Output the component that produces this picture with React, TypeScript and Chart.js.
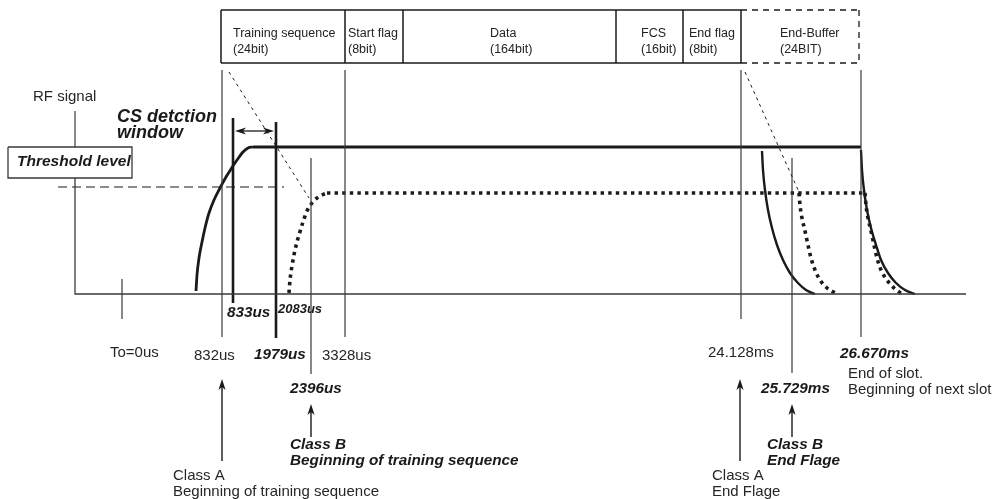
import React, { useEffect, useRef } from "react";
import { Chart, registerables } from "chart.js";

Chart.register(...registerables);

type P = [number, number];

// ---- Schematic diagram space (x: time-ordered schematic axis, y: level, top = 0) ----
const X_RANGE: P = [0, 997];
const Y_RANGE: P = [0, 499];

// Packet frame fields
const FIELD_EDGES = [221, 345, 403, 616, 683, 741];
const BUFFER_EDGE = 859;
const FRAME_TOP = 10;
const FRAME_BOTTOM = 63;
const FIELD_TITLES = ["Training sequence", "Start flag", "Data", "FCS", "End flag", "End-Buffer"];
const FIELD_BITS = ["(24bit)", "(8bit)", "(164bit)", "(16bit)", "(8bit)", "(24BIT)"];
const FIELD_TEXT_X = [233, 348, 490, 641, 689, 780];

// Axes of the RF signal plot
const BASE_LEVEL = 294;
const AXIS_X: P = [75, 966];
const RF_AXIS_TOP = 111;
const THRESH_BOX: [number, number, number, number] = [8, 147, 132, 178];
const THRESHOLD_LEVEL = 187;
const THRESHOLD_SPAN: P = [58, 284];

// Signal levels
const CLASS_A_LEVEL = 147;
const CLASS_B_LEVEL = 193;

// Class A (solid) signal
const CLASS_A_RISE: P[] = [
  [196, 291], [197, 275], [199, 258], [202, 242], [205, 228], [209, 213], [214, 200],
  [220, 188], [226, 177], [231, 169], [237, 160], [243, 152], [248, 148], [253, 147],
];
const CLASS_A_FLAT: P = [253, 861];
const CLASS_A_FALL_1: P[] = [
  [762, 151], [763, 170], [765, 190], [768, 210], [772, 228], [777, 245], [783, 260],
  [790, 273], [798, 283], [806, 290], [815, 294],
];
const CLASS_A_FALL_2: P[] = [
  [861, 150], [862, 170], [864, 190], [867, 210], [871, 228], [876, 245], [881, 260],
  [888, 273], [896, 283], [905, 290], [915, 294],
];

// Class B (dotted) signal
const CLASS_B_RISE: P[] = [
  [289, 293], [290, 280], [292, 266], [295, 250], [299, 235], [303, 222], [307, 211],
  [312, 203], [317, 198], [322, 195], [327, 193],
];
const CLASS_B_FLAT: P = [327, 866];
const CLASS_B_FALL_1: P[] = [
  [799, 193], [800, 205], [802, 218], [805, 231], [808, 245], [811, 258], [815, 270],
  [820, 280], [827, 288], [837, 294],
];
const CLASS_B_FALL_2: P[] = [
  [865, 193], [866, 205], [868, 218], [871, 231], [874, 245], [877, 258], [881, 270],
  [887, 280], [894, 288], [902, 294],
];

// Guides (thin dashed)
const GUIDE_LEFT: P[] = [[229, 72], [309, 198]];
const GUIDE_RIGHT: P[] = [[745, 72], [799, 192]];

// Time markers: [x, top, bottom]
const THIN_MARKERS: [number, number, number][] = [
  [122, 279, 319], [222, 70, 337], [345, 70, 337], [741, 70, 319], [861, 70, 337],
  [311, 158, 374], [792, 158, 373],
];
const THICK_MARKERS: [number, number, number][] = [[233, 118, 303], [276, 122, 338]];

// CS detection window arrow
const CS_WINDOW: P = [235, 274];
const CS_WINDOW_Y = 131;

// Pointer arrows: [x, tail y, tip y]
const POINTERS: [number, number, number][] = [
  [222, 461, 379], [311, 437, 404], [740, 461, 379], [792, 437, 404],
];

// Labels: text, x, y, kind
type Kind = "reg" | "bi" | "big" | "small" | "frame" | "thr";
const LABEL_TEXT = [
  "RF signal", "CS detction", "window", "Threshold level",
  "833us", "2083us", "To=0us", "832us", "1979us", "3328us", "2396us",
  "Class B", "Beginning of training sequence", "Class A", "Beginning of training sequence",
  "24.128ms", "26.670ms", "End of slot.", "Beginning of next slot", "25.729ms",
  "Class B", "End Flage", "Class A", "End Flage",
];
const LABEL_POS: P[] = [
  [33, 97], [117, 117], [117, 133], [17, 162],
  [227, 313], [278, 309], [110, 353], [194, 356], [254, 355], [322, 356], [290, 389],
  [290, 445], [290, 461], [173, 476], [173, 492],
  [708, 353], [840, 354], [848, 374], [848, 390], [761, 389],
  [767, 445], [767, 461], [712, 476], [712, 492],
];
const LABEL_KIND: Kind[] = [
  "reg", "big", "big", "thr",
  "bi", "small", "reg", "reg", "bi", "reg", "bi",
  "bi", "bi", "reg", "reg",
  "reg", "bi", "reg", "reg", "bi",
  "bi", "bi", "reg", "reg",
];

const INK = "#1a1a1a";
const GREY = "#3a3a3a";
const FAMILY = '"Liberation Sans", Arial, Helvetica, sans-serif';
const FONTS: Record<Kind, string> = {
  reg: `15px ${FAMILY}`,
  bi: `italic bold 15.3px ${FAMILY}`,
  big: `italic bold 18px ${FAMILY}`,
  small: `italic bold 13px ${FAMILY}`,
  frame: `12.5px ${FAMILY}`,
  thr: `italic bold 15.5px ${FAMILY}`,
};

function line(pts: P[], width: number, color: string, dash: number[] = [], smooth = false): any {
  return {
    data: pts.map(([x, y]) => ({ x, y })),
    showLine: true,
    borderColor: color,
    borderWidth: width,
    borderDash: dash,
    borderCapStyle: "butt",
    borderJoinStyle: "miter",
    pointRadius: 0,
    pointHoverRadius: 0,
    fill: false,
    tension: 0,
    cubicInterpolationMode: smooth ? "monotone" : "default",
  };
}

function buildDatasets(): any[] {
  const ds: any[] = [];
  // packet frame (solid part)
  const first = FIELD_EDGES[0];
  const last = FIELD_EDGES[FIELD_EDGES.length - 1];
  ds.push(line([[first, FRAME_TOP], [last, FRAME_TOP]], 1.5, INK));
  ds.push(line([[first, FRAME_BOTTOM], [last, FRAME_BOTTOM]], 1.5, INK));
  FIELD_EDGES.forEach((e) => ds.push(line([[e, FRAME_TOP], [e, FRAME_BOTTOM]], 1.5, INK)));
  // end buffer (dashed)
  ds.push(line([[last, FRAME_TOP], [BUFFER_EDGE, FRAME_TOP]], 1.3, INK, [6, 5]));
  ds.push(line([[last, FRAME_BOTTOM], [BUFFER_EDGE, FRAME_BOTTOM]], 1.3, INK, [6, 5]));
  ds.push(line([[BUFFER_EDGE, FRAME_TOP], [BUFFER_EDGE, FRAME_BOTTOM]], 1.3, INK, [6, 5]));

  // axes
  ds.push(line([[AXIS_X[0], RF_AXIS_TOP], [AXIS_X[0], THRESH_BOX[1]]], 1.2, GREY));
  ds.push(line([[AXIS_X[0], THRESH_BOX[3]], [AXIS_X[0], BASE_LEVEL], [AXIS_X[1], BASE_LEVEL]], 1.3, GREY));
  const [bx0, by0, bx1, by1] = THRESH_BOX;
  ds.push(line([[bx0, by0], [bx1, by0], [bx1, by1], [bx0, by1], [bx0, by0]], 1.3, GREY));

  // threshold dashed line
  ds.push(line([[THRESHOLD_SPAN[0], THRESHOLD_LEVEL], [THRESHOLD_SPAN[1], THRESHOLD_LEVEL]], 1.2, INK, [9, 5]));

  // guides
  ds.push(line(GUIDE_LEFT, 1, INK, [3, 4]));
  ds.push(line(GUIDE_RIGHT, 1, INK, [3, 4]));

  // markers
  THIN_MARKERS.forEach(([x, t, b]) => ds.push(line([[x, t], [x, b]], 1.2, GREY)));
  THICK_MARKERS.forEach(([x, t, b]) => ds.push(line([[x, t], [x, b]], 2.6, INK)));

  // CS window arrow shaft
  ds.push(line([[CS_WINDOW[0] + 4, CS_WINDOW_Y], [CS_WINDOW[1] - 4, CS_WINDOW_Y]], 1.3, INK));

  // pointer shafts
  POINTERS.forEach(([x, tail, tip]) => ds.push(line([[x, tail], [x, tip + 6]], 1.4, INK)));

  // class A signal
  ds.push(line(CLASS_A_RISE, 2.8, INK, [], true));
  ds.push(line([[CLASS_A_FLAT[0], CLASS_A_LEVEL], [CLASS_A_FLAT[1], CLASS_A_LEVEL]], 2.8, INK));
  ds.push(line(CLASS_A_FALL_1, 2.4, INK, [], true));
  ds.push(line(CLASS_A_FALL_2, 2.4, INK, [], true));

  // class B signal (dotted)
  ds.push(line(CLASS_B_RISE, 3.6, INK, [3.4, 4.2], true));
  ds.push(line([[CLASS_B_FLAT[0], CLASS_B_LEVEL], [CLASS_B_FLAT[1], CLASS_B_LEVEL]], 3.6, INK, [3.4, 4.2]));
  ds.push(line(CLASS_B_FALL_1, 3.6, INK, [3.4, 4.2], true));
  ds.push(line(CLASS_B_FALL_2, 3.6, INK, [3.4, 4.2], true));
  return ds;
}

const annotate = {
  id: "annotate",
  afterDatasetsDraw(chart: any) {
    const { ctx } = chart;
    const sx = chart.scales.x;
    const sy = chart.scales.y;
    const px = (v: number) => sx.getPixelForValue(v);
    const py = (v: number) => sy.getPixelForValue(v);
    ctx.save();
    ctx.fillStyle = INK;

    // arrow heads
    const head = (x: number, y: number, dx: number, dy: number) => {
      const L = 11, W = 3.6, N = 8;
      const tx = px(x), ty = py(y);
      const nx = -dy, ny = dx;
      ctx.beginPath();
      ctx.moveTo(tx, ty);
      ctx.lineTo(tx - dx * L + nx * W, ty - dy * L + ny * W);
      ctx.lineTo(tx - dx * N, ty - dy * N);
      ctx.lineTo(tx - dx * L - nx * W, ty - dy * L - ny * W);
      ctx.closePath();
      ctx.fill();
    };
    POINTERS.forEach(([x, , tip]) => head(x, tip, 0, -1));
    head(CS_WINDOW[0], CS_WINDOW_Y, -1, 0);
    head(CS_WINDOW[1], CS_WINDOW_Y, 1, 0);

    // frame labels
    ctx.textBaseline = "middle";
    ctx.textAlign = "left";
    ctx.fillStyle = "#222";
    ctx.font = FONTS.frame;
    FIELD_TITLES.forEach((t, i) => {
      ctx.fillText(t, px(FIELD_TEXT_X[i]), py(33.5));
      ctx.fillText(FIELD_BITS[i], px(FIELD_TEXT_X[i]), py(49.5));
    });

    // other labels
    LABEL_TEXT.forEach((t, i) => {
      ctx.font = FONTS[LABEL_KIND[i]];
      ctx.fillStyle = LABEL_KIND[i] === "reg" ? "#262626" : "#1a1a1a";
      ctx.fillText(t, px(LABEL_POS[i][0]), py(LABEL_POS[i][1]));
    });
    ctx.restore();
  },
};

export default function App() {
  const ref = useRef<HTMLCanvasElement | null>(null);
  useEffect(() => {
    if (!ref.current) return;
    const chart = new Chart(ref.current, {
      type: "scatter",
      data: { datasets: buildDatasets() },
      options: {
        animation: false,
        responsive: false,
        maintainAspectRatio: false,
        events: [],
        layout: { padding: 0 },
        plugins: { legend: { display: false }, tooltip: { enabled: false }, title: { display: false } },
        scales: {
          x: { type: "linear", min: X_RANGE[0], max: X_RANGE[1], display: false },
          y: { type: "linear", min: Y_RANGE[0], max: Y_RANGE[1], reverse: true, display: false },
        },
      },
      plugins: [annotate],
    } as any);
    return () => chart.destroy();
  }, []);
  return (
    <div style={{ position: "fixed", left: 0, top: 0, width: 997, height: 499, background: "#fff" }}>
      <canvas ref={ref} width={997} height={499} style={{ display: "block", width: 997, height: 499 }} />
    </div>
  );
}
